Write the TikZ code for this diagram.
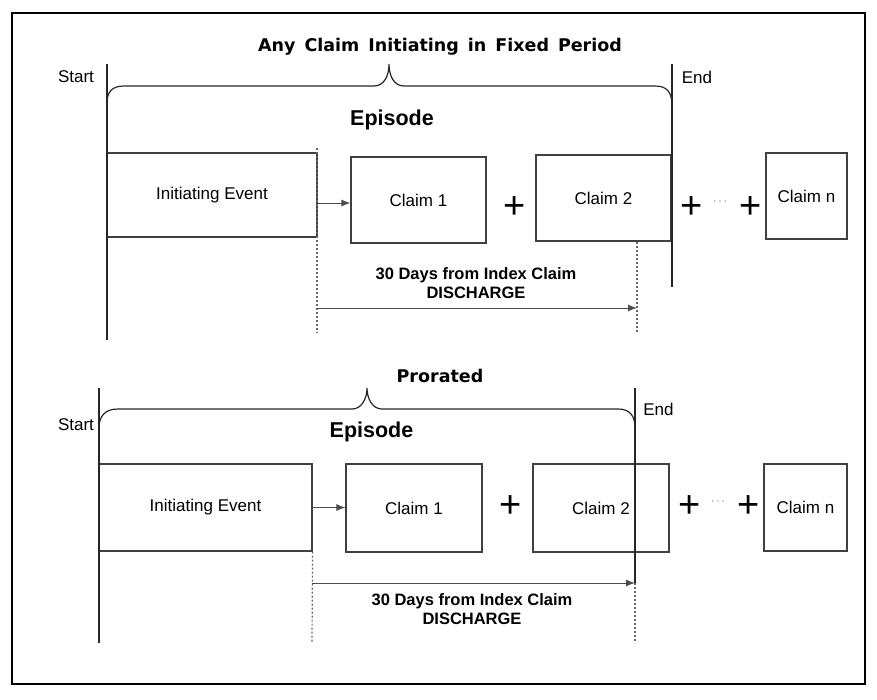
\documentclass[tikz,border=0pt]{standalone}
\usepackage{fontspec}
\setmainfont{Liberation Sans}
\newfontfamily\wideface{DejaVu Sans}
\usetikzlibrary{arrows.meta}

\tikzset{
  box/.style={draw=black!75, line width=1.1pt, minimum width=#1, minimum height=86pt, inner sep=0pt, font=\fontsize{17}{20}\selectfont},
  bar/.style={draw=black!85, line width=1.2pt},
  dotline/.style={draw=black!60, line width=1.2pt, dash pattern=on 2pt off 2pt},
  arr/.style={draw=black!70, line width=1pt, -{Latex[length=9pt,width=7pt]}},
  lbl/.style={font=\fontsize{17}{20}\selectfont, inner sep=0pt, anchor=base},
  heading/.style={font=\wideface\bfseries\fontsize{17.5}{21}\selectfont, inner sep=0pt, anchor=base},
  episode/.style={font=\bfseries\fontsize{21.5}{24}\selectfont, inner sep=0pt, anchor=base},
  spantext/.style={font=\bfseries\fontsize{16.5}{19}\selectfont, align=center, inner sep=0pt},
  plussign/.style={font=\fontsize{38}{40}\selectfont, inner sep=0pt},
  etc/.style={font=\fontsize{12}{12}\selectfont, text=black!60, inner sep=0pt}
}
\newcommand{\widegaps}{\spaceskip=9pt\relax}

\begin{document}
\begin{tikzpicture}[x=1pt, y=-1pt]
    \useasboundingbox (0,0) rectangle (877,699);
    % Frame
    \draw[line width=2pt] (12,13) rectangle (865,684);

    %% Fixed period
    \node[heading] (titleA) at (440,51) {\widegaps Any Claim Initiating in Fixed Period};
    \node[episode] (episodeA) at (392,125) {Episode};
    \node[lbl] (startlblA) at (76,82) {Start};
    \node[lbl] (endlblA) at (697,83) {End};

    % Boxes
    \node[box=210pt, minimum height=84pt] (initA) at (212,195) {Initiating Event};
    \node[box=135pt] (claimOneA) at (418.5,200) {Claim 1};
    \node[box=135pt] (claimTwoA) at (603.5,198) {Claim 2};
    \node[box=81pt] (claimNA) at (806.5,196) {Claim n};

    % Plus signs
    \node[plussign] (plusA1) at (515,208) {+};
    \node[plussign] (plusA2) at (692,208) {+};
    \node[etc] (dotsA) at (720,202) {$\cdots$};
    \node[plussign] (plusA3) at (751,208) {+};

    % Start and end
    \coordinate (startAtop) at (107,64);
    \coordinate (startAbot) at (107,340);
    \coordinate (endAtop) at (672,64);
    \coordinate (endAbot) at (672,287);
    \draw[bar] (startAtop) -- (startAbot);
    \draw[bar] (endAtop) -- (endAbot);

    % Brace
    \draw[bar] (107,103) .. controls (107,92) and (112,86) .. (124,86) -- (374,86)
        .. controls (384,86) and (389,76) .. (389,64)
        .. controls (389,76) and (394,86) .. (404,86) -- (655,86)
        .. controls (667,86) and (672,92) .. (672,106);

    % 30 days
    \coordinate (dayAfrom) at (317,308);
    \coordinate (dayAto) at (637,308);
    \draw[dotline] (317,148) -- (317,333);
    \draw[dotline] (claimTwoA.south -| dayAto) -- (637,333);
    \draw[arr] ([yshift=-3pt]initA.east |- claimOneA.west) -- ([yshift=-3pt]claimOneA.west);
    \draw[arr] (dayAfrom) -- (dayAto);
    \node[spantext] (daysA) at (476,283.5) {30 Days from Index Claim\\DISCHARGE};

    %% Prorated
    \node[heading] (titleB) at (440,382) {Prorated};
    \node[episode] (episodeB) at (371.5,437) {Episode};
    \node[lbl] (startlblB) at (76,430) {Start};
    \node[lbl] (endlblB) at (658.5,415) {End};

    % Boxes
    \node[box=213pt, minimum height=87pt] (initB) at (205.5,507.5) {Initiating Event};
    \node[box=136pt, minimum height=88pt] (claimOneB) at (414,508) {Claim 1};
    \node[box=136pt, minimum height=88pt] (claimTwoB) at (601,508) {Claim 2};
    \node[box=83pt, minimum height=87pt] (claimNB) at (805.5,507.5) {Claim n};

    % Plus signs
    \node[plussign] (plusB1) at (511,507) {+};
    \node[plussign] (plusB2) at (690,507) {+};
    \node[etc] (dotsB) at (718,502) {$\cdots$};
    \node[plussign] (plusB3) at (749,507) {+};

    % Start and end
    \coordinate (startBtop) at (99,388);
    \coordinate (startBbot) at (99,643);
    \coordinate (endBtop) at (635,388);
    \coordinate (endBbot) at (635,583);
    \draw[bar] (startBtop) -- (startBbot);
    \draw[bar] (endBtop) -- (endBbot);

    % Brace
    \draw[bar] (99,428) .. controls (99,416) and (105,409) .. (118,409) -- (352,409)
        .. controls (362,409) and (367,398) .. (367,388)
        .. controls (367,398) and (372,409) .. (382,409) -- (618,409)
        .. controls (630,409) and (635,416) .. (635,428);

    % 30 days
    \coordinate (dayBfrom) at (312,583);
    \coordinate (dayBto) at (635,583);
    \draw[dotline] (initB.south east) -- (312,643);
    \draw[dotline] (dayBto) -- (635,643);
    \draw[arr] (initB.east) -- (initB.east -| claimOneB.west);
    \draw[arr] (dayBfrom) -- (dayBto);
    \node[spantext] (daysB) at (472,609) {30 Days from Index Claim\\DISCHARGE};
\end{tikzpicture}
\end{document}
